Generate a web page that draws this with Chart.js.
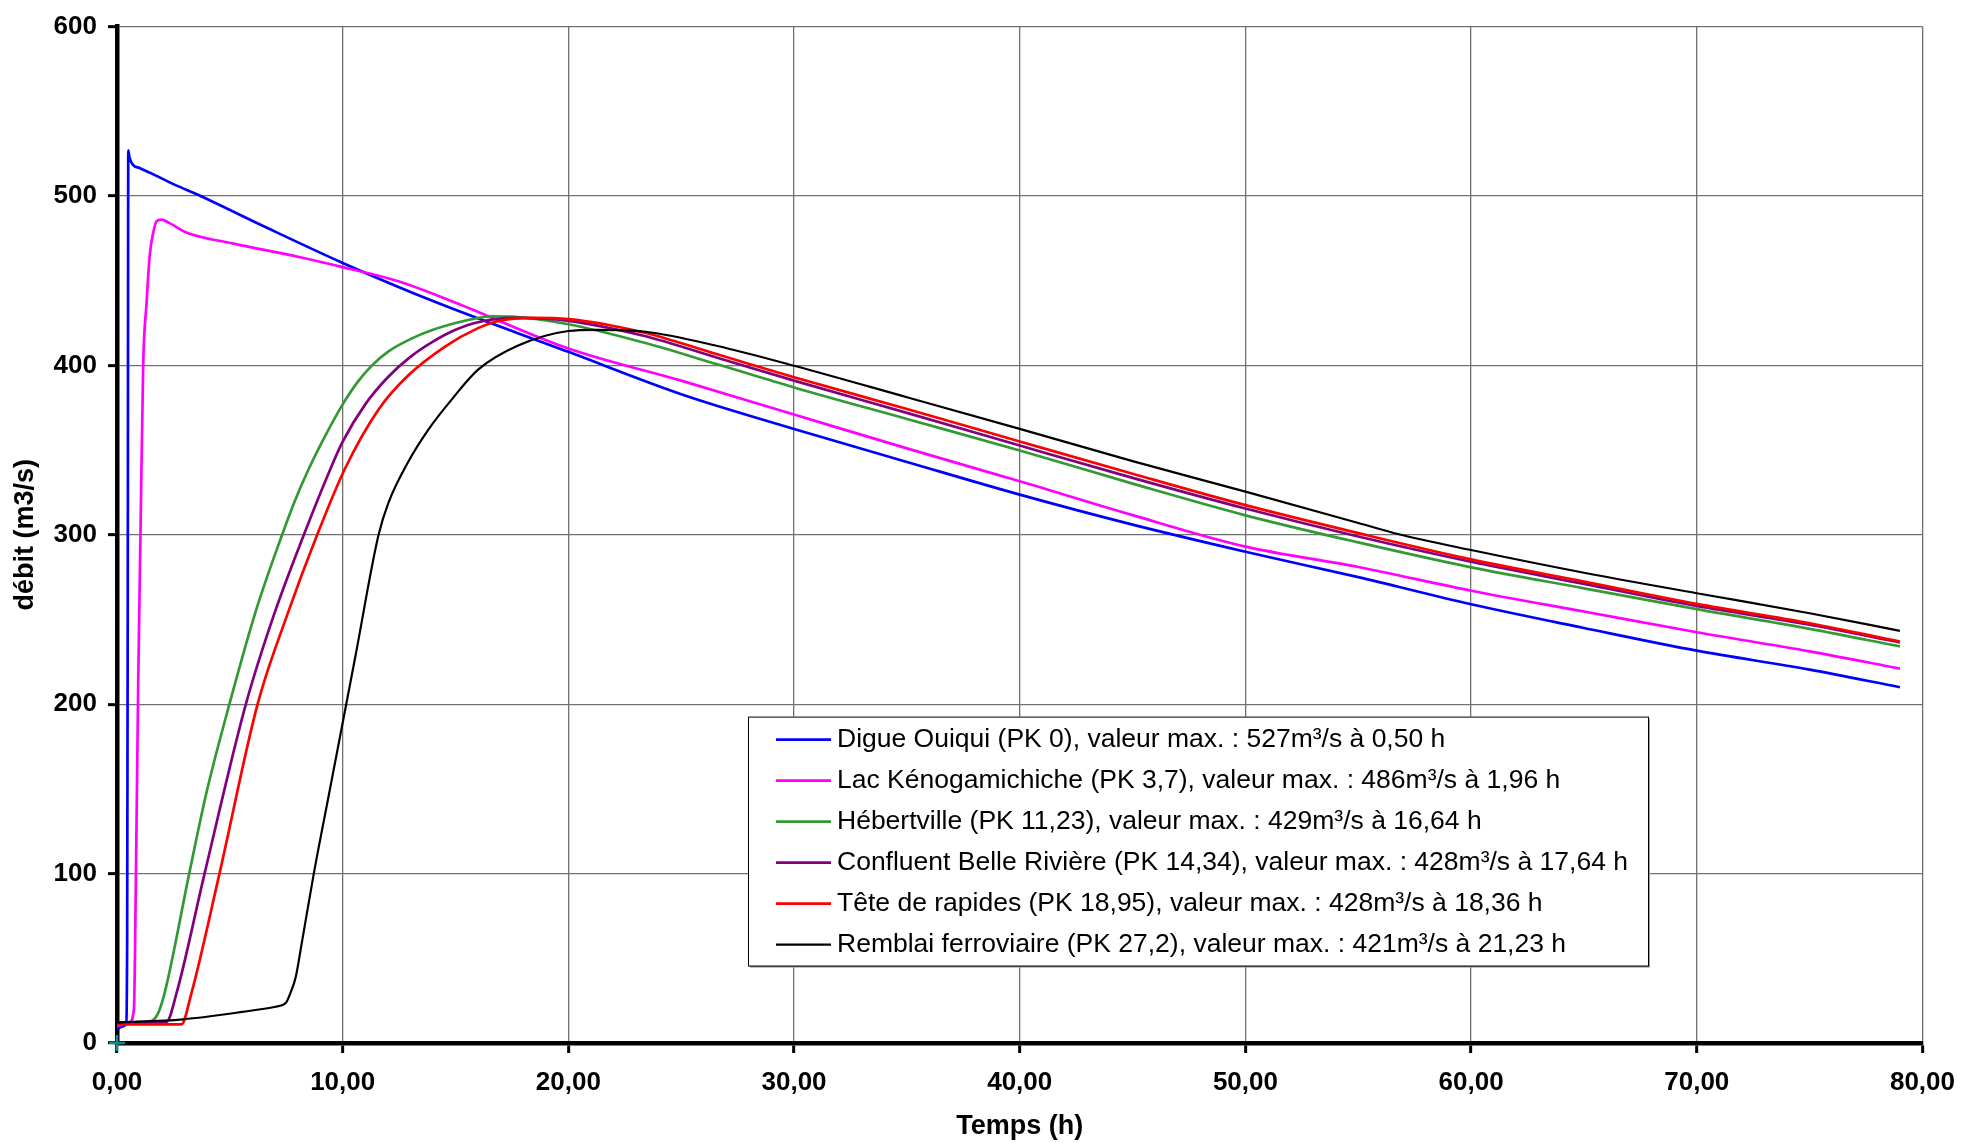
<!DOCTYPE html>
<html lang="fr">
<head>
<meta charset="utf-8">
<title>Débits</title>
<script src="https://cdn.jsdelivr.net/npm/chart.js@4.4.1/dist/chart.umd.min.js"></script>
<style>
  html, body { margin: 0; padding: 0; background: #fff; }
  #graphe { display: block; }
</style>
</head>
<body>
<canvas id="graphe" width="1969" height="1143"></canvas>
<script>
// noms des séries (légende)
const noms = [
    'Digue Ouiqui (PK 0), valeur max. : 527m³/s à 0,50 h',
    'Lac Kénogamichiche (PK 3,7), valeur max. : 486m³/s à 1,96 h',
    'Hébertville (PK 11,23), valeur max. : 429m³/s à 16,64 h',
    'Confluent Belle Rivière (PK 14,34), valeur max. : 428m³/s à 17,64 h',
    'Tête de rapides (PK 18,95), valeur max. : 428m³/s à 18,36 h',
    'Remblai ferroviaire (PK 27,2), valeur max. : 421m³/s à 21,23 h'
]
const couleurs = ['#0000ff', '#ff00ff', '#339933', '#800080', '#ff0000', '#000000']
const epaisseurs = [2.7, 2.7, 2.7, 2.7, 2.7, 2.2]

// Digue Ouiqui (temps h / débit m3/s)
const digueT = [0, 0.2, 0.4, 0.45, 0.48, 0.5, 0.55, 0.7, 1.0, 1.5, 2.5, 3.7, 6.6, 10, 14, 20, 25, 30, 35, 40, 45, 50, 55, 60, 65, 70, 75, 79]
const digueQ = [8, 9.5, 11, 60, 300, 527, 523, 518.5, 516.5, 513.5, 507, 500, 481.5, 460.5, 438, 408, 383, 362.5, 343, 323.7, 306, 290, 275, 259, 245, 231.6, 220.4, 210]

// Lac Kénogamichiche
const lacT = [0, 0.55, 0.75, 0.84, 0.94, 1.04, 1.16, 1.31, 1.45, 1.6, 1.75, 1.96, 2.33, 3.07, 5.12, 8.06, 10, 12.5, 15, 20, 25, 30, 35, 40, 45, 50, 55, 60, 65, 70, 75, 79]
const lacQ = [10, 12, 20, 100, 213, 300, 400, 437, 465, 478, 485, 486, 484, 478.5, 472, 464, 458, 449.5, 437, 410, 391, 371, 351, 331.6, 311.6, 293, 281, 267, 254.7, 242.5, 231.2, 221]

// Hébertville
const hebertT = [0, 1.5, 1.8, 2.1, 3.2, 3.95, 4.98, 6.15, 7.26, 7.88, 8.5, 9.25, 10, 10.65, 11.3, 12, 13, 14, 15, 16, 16.64, 17.5, 20, 23.33, 26.56, 30, 35, 40, 45, 50, 55, 60, 65, 70, 75, 79]
const hebertQ = [12, 13, 17, 29, 100, 147, 200, 255, 298, 320, 339, 359, 377, 390, 400, 408, 415.5, 421, 425, 428, 429, 428.8, 424.3, 413.5, 400.8, 387, 368.4, 349.8, 330.2, 311.5, 295.5, 280.8, 268.4, 256.1, 244.5, 234.1]

// Confluent Belle Rivière
const confluentT = [0, 2.19, 2.63, 3.88, 5.71, 6.96, 8.28, 9.46, 10, 11, 12, 13, 14, 15, 16, 17.64, 20, 23.33, 26.56, 30, 35, 40, 45, 50, 55, 60, 65, 70, 75, 79]
const confluentQ = [12, 12.5, 29, 100, 200, 253, 300, 339, 355, 377, 393, 405, 414, 421, 425.5, 428, 426.3, 417.5, 404.7, 391, 372, 352.7, 333.6, 315.5, 299, 284.1, 271, 258, 246.9, 236.5]

// Tête de rapides
const teteT = [0, 2.85, 3.29, 4.54, 6.23, 7.55, 8.87, 10.1, 11.59, 12.9, 14.52, 16, 17, 18.36, 20, 23.33, 26.56, 30, 35, 40, 45, 50, 55, 60, 65, 70, 75, 79]
const teteQ = [11, 11, 29, 100, 200, 253, 300, 339, 374, 394, 411, 422, 426.5, 428, 427.3, 419.4, 406.7, 393, 374.3, 355.1, 336, 317.5, 301, 285.5, 272.4, 259.2, 247.8, 237]

// Remblai ferroviaire
const remblaiT = [0, 2.92, 5.57, 7.03, 7.33, 7.5, 7.7, 7.92, 8.2, 8.72, 9.38, 10.1, 10.56, 11.59, 12.03, 12.9, 13.79, 14.9, 16, 17.75, 20, 21.23, 23.33, 26.56, 30, 35, 40, 45, 50, 55, 56.75, 60, 65, 70, 75, 79]
const remblaiQ = [12, 14, 18.4, 21.4, 22.4, 24, 30, 39, 60, 100, 146, 196, 228, 300, 319, 343, 362, 381, 397.5, 411.6, 420.3, 421, 420, 411.6, 399.8, 381.2, 362.5, 343.5, 325.5, 307, 300.5, 291, 277.6, 265.5, 253.7, 243.3]

// petite croix à l'origine
const origineT = [0]
const origineQ = [0]

const xMax = 80, xPas = 10
const yMax = 600, yPas = 100

const police = '"Liberation Sans", Arial, sans-serif'

function points(t, q) {
    return t.map((v, i) => ({x: v, y: q[i]}))
}

const series = [
    [digueT, digueQ],
    [lacT, lacQ],
    [hebertT, hebertQ],
    [confluentT, confluentQ],
    [teteT, teteQ],
    [remblaiT, remblaiQ]
]

const datasets = series.map((s, i) => ({
    label: noms[i],
    data: points(s[0], s[1]),
    borderColor: couleurs[i],
    backgroundColor: couleurs[i],
    borderWidth: epaisseurs[i],
    pointRadius: 0,
    cubicInterpolationMode: 'monotone',
    order: series.length - i // la dernière série passe au-dessus
}))

datasets.push({
    label: 'origine',
    data: points(origineT, origineQ),
    showLine: false,
    pointStyle: 'cross',
    pointRadius: 8,
    borderColor: '#108a8a',
    borderWidth: 2.5,
    clip: false,
    order: 0
})

// légende encadrée dans la zone du graphique
const legende = {
    id: 'legende',
    afterDatasetsDraw(chart) {
        const {ctx, chartArea} = chart
        const x0 = chartArea.left + 631, y0 = chartArea.top + 690
        const w = 900, h = 249

        ctx.save()
        ctx.fillStyle = '#a0a0a0' // ombre
        ctx.fillRect(x0 + 2, y0 + 2, w, h)
        ctx.fillStyle = '#fff'
        ctx.fillRect(x0, y0, w, h)
        ctx.strokeStyle = '#000'
        ctx.lineWidth = 1
        ctx.strokeRect(x0 + 0.5, y0 + 0.5, w, h)

        ctx.font = '26.5px ' + police
        ctx.textBaseline = 'middle'
        noms.forEach((nom, i) => {
            const y = y0 + 23 + i * 41
            ctx.strokeStyle = couleurs[i]
            ctx.lineWidth = epaisseurs[i]
            ctx.beginPath()
            ctx.moveTo(x0 + 28, y)
            ctx.lineTo(x0 + 83, y)
            ctx.stroke()
            ctx.fillStyle = '#000'
            ctx.fillText(nom, x0 + 89, y)
        })
        ctx.restore()
    }
}

const grille = {color: '#707070', lineWidth: 1.3, tickColor: '#000', tickWidth: 3}
const gras = size => ({family: police, size: size, weight: 'bold'})

new Chart(document.getElementById('graphe'), {
    type: 'line',
    data: {datasets},
    options: {
        responsive: false,
        animation: false,
        layout: {padding: {top: 23, right: 39, left: 0, bottom: 0}},
        plugins: {
            legend: {display: false},
            tooltip: {enabled: false}
        },
        scales: {
            x: {
                type: 'linear',
                min: 0,
                max: xMax,
                afterFit: s => { s.height = 100 },
                border: {color: '#000', width: 4.5},
                grid: {...grille, tickLength: 10},
                ticks: {
                    stepSize: xPas,
                    color: '#000',
                    font: gras(26),
                    padding: 14,
                    maxRotation: 0,
                    callback: v => v.toFixed(2).replace('.', ',')
                },
                title: {display: true, text: 'Temps (h)', color: '#000', font: gras(27), padding: {top: 0, bottom: 0}}
            },
            y: {
                min: 0,
                max: yMax,
                afterFit: s => { s.width = 117 },
                border: {color: '#000', width: 4.5},
                grid: {...grille, tickLength: 9},
                ticks: {stepSize: yPas, color: '#000', font: gras(26), padding: 11},
                title: {display: true, text: 'débit (m3/s)', color: '#000', font: gras(27), padding: {top: 9, bottom: 0}}
            }
        }
    },
    plugins: [legende]
})
</script>
</body>
</html>
